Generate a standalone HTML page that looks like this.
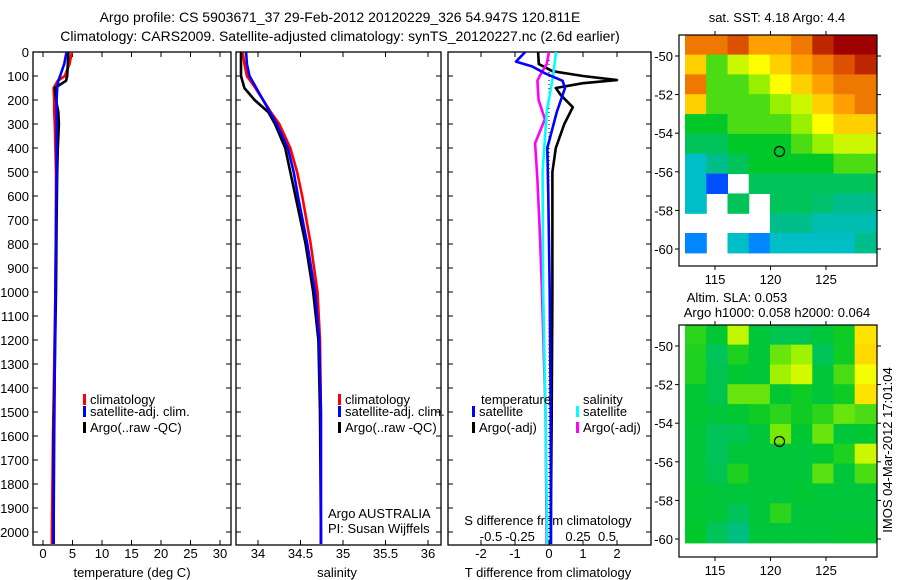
<!DOCTYPE html>
<html><head><meta charset="utf-8"><style>
html,body{margin:0;padding:0;background:#fff;}
svg{display:block;font-family:"Liberation Sans",sans-serif;}
text{font-size:13px;fill:#000;}
text.big{font-size:14px;}
</style></head><body>
<svg id="chart" width="900" height="580" viewBox="0 0 900 580">
<text class="big" x="340" y="22" text-anchor="middle">Argo profile: CS 5903671_37 29-Feb-2012 20120229_326 54.947S 120.811E</text>
<text class="big" x="340" y="41" text-anchor="middle">Climatology: CARS2009. Satellite-adjusted climatology: synTS_20120227.nc (2.6d earlier)</text>
<g id="g"></g>
</svg>
<script>
// ---- data ----
const depthT = [0,50,100,120,150,200,250,300,400,500,700,1000,1300,1600,2000,2050];
const argoT  = [4.3,4.2,4.1,3.9,2.0,2.2,2.6,2.7,2.5,2.4,2.3,2.2,2.0,1.8,1.8,1.8];
const climT  = [4.9,4.5,3.7,2.5,1.8,1.9,1.9,2.0,2.1,2.2,2.2,2.1,1.9,1.7,1.5,1.5];
const satT   = [4.0,3.6,2.9,2.6,2.4,2.3,2.3,2.3,2.3,2.3,2.2,2.1,2.0,1.9,1.8,1.8];
const depthS = [0,50,100,150,200,250,300,400,500,600,800,1000,1200,1500,2000,2050];
const argoS  = [33.80,33.80,33.80,33.84,33.96,34.12,34.20,34.32,34.38,34.44,34.56,34.65,34.71,34.73,34.74,34.74];
const climS  = [33.82,33.84,33.87,33.97,34.06,34.15,34.25,34.38,34.46,34.52,34.62,34.70,34.73,34.74,34.74,34.74];
const satS   = [33.86,33.87,33.90,33.98,34.06,34.14,34.22,34.35,34.42,34.47,34.58,34.67,34.72,34.74,34.74,34.74];
const depthDT1 = [0,50,80,100,117,130,150,180,230,300,400,500,700,1000,1500,2050];
const argoDT   = [-0.32,-0.3,0.1,1.0,2.0,1.0,0.2,0.35,0.7,0.45,0.2,0.1,0.1,0.1,0.08,0.05];
const depthDT2 = [0,40,60,90,120,150,250,400,600,1000,1500,2050];
const satDT    = [-0.7,-0.97,-0.5,-0.1,0.4,0.47,0.23,-0.05,-0.02,0.02,0.05,0.06];
const depthDS1 = [0,50,100,120,200,280,380,530,740,1000,1500,2050];
const argoDS   = [0.0,-0.02,-0.08,-0.1,-0.09,-0.035,-0.12,-0.10,-0.08,-0.06,-0.03,-0.02];
const depthDS2 = [0,100,250,500,1000,1500,2050];
const satDS    = [0.06,0.035,-0.02,-0.055,-0.05,-0.03,-0.015];
const depthTicks = [0,100,200,300,400,500,600,700,800,900,1000,1100,1200,1300,1400,1500,1600,1700,1800,1900,2000];
const tTicks = [0,5,10,15,20,25,30];
const sTicks = [34,34.5,35,35.5,36];
const sTickLabels = ["34","34.5","35","35.5","36"];
const dtTicks = [-2,-1,0,1,2];
const dsTicks = [-0.5,-0.25,0,0.25,0.5];
const dsTickLabels = ["-0.5","-0.25","0","0.25","0.5"];
const lonTicks = [115,120,125];
const latTicks = [-50,-52,-54,-56,-58,-60];
// SST grid (rows north->south, -48.9 to -60.2), colour index 0..10, null = no data
const sstGrid = [
 [8,8,8.5,7.5,7.5,8,9,9.5,9.5],
 [7,5,6,6.5,7,7.5,8,8.5,9],
 [8,5,5,5.5,6.5,7,7.5,8,8],
 [7,5,5,5,5.5,6,7,7.5,8],
 [4.5,4.5,5,5,5,5.5,6.5,7,7],
 [4,4,4.5,4.5,4.5,5,5.5,6,6],
 [3,3.5,4,4.5,4.5,4.5,4.5,5,5],
 [3,1.5,null,4,4,4,4,4,4],
 [3,null,4,null,4,4,3.8,3.5,3.5],
 [null,null,null,null,3.5,3.5,3.2,3.2,3.2],
 [2,null,3,2,3,3,3,3,3.5]
];
const slaGrid = [
 [4.8,4.4,5.9,4.3,4.1,4.1,4.3,4.6,6.8],
 [4.7,4.0,4.7,4.3,5.2,5.6,4.0,4.6,6.9],
 [4.7,4.1,4.4,4.3,5.6,6.1,4.3,5.0,6.4],
 [4.4,4.1,5.2,5.2,4.4,4.6,4.3,4.6,6.8],
 [4.4,4.3,4.4,4.6,4.8,4.6,4.8,5.2,5.0],
 [4.3,4.0,4.1,4.3,5.3,4.4,5.2,4.3,4.4],
 [4.3,4.0,4.3,4.3,4.3,4.3,4.4,4.7,6.0],
 [4.3,4.1,4.7,4.3,4.3,4.3,5.1,4.3,5.0],
 [4.4,4.3,4.3,4.3,4.3,4.4,4.3,4.3,4.3],
 [4.4,4.3,4.0,4.3,4.8,4.3,4.3,4.3,4.3],
 [4.5,4.0,3.6,4.3,4.3,4.3,4.3,4.4,4.4]
];
const floatLon = 120.81, floatLat = -54.947;

// ---- helpers ----
const NS="http://www.w3.org/2000/svg";
const G=document.getElementById('g');
function el(tag,attrs,parent){const e=document.createElementNS(NS,tag);for(const k in attrs)e.setAttribute(k,attrs[k]);(parent||G).appendChild(e);return e;}
const yD = d => 52 + d*0.24;
const P1={x0:33,x1:231}, P2={x0:236,x1:441}, P3={x0:448,x1:651};
const PT=52, PB=545;
const xT = t => 43 + t*5.9;
const xS = s => 258 + (s-34)*85;
const xDT = v => 549 + v*34;
const xDS = v => 549 + v*116;

function frame(p,name){
  const r=el('rect',{x:p.x0,y:PT,width:p.x1-p.x0,height:PB-PT,fill:'none',stroke:'#000','stroke-width':1.3});
  
  
  depthTicks.forEach(d=>{
    el('line',{x1:p.x0,x2:p.x0+5,y1:yD(d),y2:yD(d),stroke:'#000'});
    el('line',{x1:p.x1,x2:p.x1-5,y1:yD(d),y2:yD(d),stroke:'#000'});
  });
}
function xticks(vals,fx,labels,ly,name){
  vals.forEach((v,i)=>{
    const x=fx(v);
    el('line',{x1:x,x2:x,y1:PT,y2:PT+5,stroke:'#000'});
    el('line',{x1:x,x2:x,y1:PB,y2:PB-5,stroke:'#000'});
    if(ly){const t=el('text',{x:x,y:ly,'text-anchor':'middle'});t.textContent=labels?labels[i]:String(v);
    
    }
  });
}
function txt(x,y,s,name,anchor){const t=el('text',{x:x,y:y,'text-anchor':anchor||'start'});t.textContent=s;
  
  return t;}
function legend(x,y,color,label,name){
  el('rect',{x:x,y:y-10,width:3,height:11,fill:color});
  txt(x+7,y,label,name);
}
const defs=el('defs',{});
[[P1,'c1'],[P2,'c2'],[P3,'c3']].forEach(([p,id])=>{const c=el('clipPath',{id:id},defs);el('rect',{x:p.x0,y:PT,width:p.x1-p.x0,height:PB-PT},c);});
function lineIn(g,ds,vs,fx,color,name){const pts=ds.map((d,i)=>fx(vs[i]).toFixed(1)+','+yD(d).toFixed(1)).join(' ');
  const p=el('polyline',{points:pts,fill:'none',stroke:color,'stroke-width':2.6,'stroke-linejoin':'round'},g);
  
  }

// Panel 1
frame(P1,'temperature-panel');
depthTicks.forEach(d=>txt(29,yD(d)+5,String(d),'depth-tick-label','end'));
xticks(tTicks,xT,null,558,'temperature-tick-label');
txt(132,577,'temperature (deg C)','temperature-axis-title','middle');
let g1=el('g',{'clip-path':'url(#c1)'});
lineIn(g1,depthT,climT,xT,'#ff0000','climatology-temperature-line');
lineIn(g1,depthT,argoT,xT,'#000000','argo-temperature-line');
lineIn(g1,depthT,satT,xT,'#0000ff','satellite-temperature-line');
legend(83,404,'#ff0000','climatology','legend-climatology');
legend(83,416,'#0000ff','satellite-adj. clim.','legend-satellite');
legend(83,432,'#000000','Argo(..raw -QC)','legend-argo');

// Panel 2
frame(P2,'salinity-panel');
xticks(sTicks,xS,sTickLabels,558,'salinity-tick-label');
txt(337,577,'salinity','salinity-axis-title','middle');
let g2=el('g',{'clip-path':'url(#c2)'});
lineIn(g2,depthS,climS,xS,'#ff0000','climatology-salinity-line');
lineIn(g2,depthS,argoS,xS,'#000000','argo-salinity-line');
lineIn(g2,depthS,satS,xS,'#0000ff','satellite-salinity-line');
legend(338,404,'#ff0000','climatology','legend-climatology-2');
legend(338,416,'#0000ff','satellite-adj. clim.','legend-satellite-2');
legend(338,432,'#000000','Argo(..raw -QC)','legend-argo-2');
txt(328,518,'Argo AUSTRALIA','argo-australia-label');
txt(328,533,'PI: Susan Wijffels','pi-label');

// Panel 3
frame(P3,'difference-panel');
xticks(dtTicks,xDT,null,558,'t-diff-tick-label');
dsTicks.forEach((v,i)=>{txt(xDS(v),541,dsTickLabels[i],'s-diff-tick-label','middle');});
txt(548,577,'T difference from climatology','t-diff-axis-title','middle');
txt(548,525,'S difference from climatology','s-diff-axis-title','middle');
let g3=el('g',{'clip-path':'url(#c3)'});
el('line',{x1:xDT(0),x2:xDT(0),y1:PT,y2:PB,stroke:'#000','stroke-dasharray':'1 3','stroke-width':1},g3);
lineIn(g3,depthDT1,argoDT,xDT,'#000000','argo-t-diff-line');
lineIn(g3,depthDS1,argoDS,xDS,'#ff00ff','argo-s-diff-line');
lineIn(g3,depthDS2,satDS,xDS,'#00ffff','satellite-s-diff-line');
lineIn(g3,depthDT2,satDT,xDT,'#0000ff','satellite-t-diff-line');
txt(481,404,'temperature','legend-temperature-heading');
txt(583,404,'salinity','legend-salinity-heading');
legend(472,416,'#0000ff','satellite','legend-t-satellite');
legend(472,432,'#000000','Argo(-adj)','legend-t-argo');
legend(576,416,'#00ffff','satellite','legend-s-satellite');
legend(576,432,'#ff00ff','Argo(-adj)','legend-s-argo');

// Maps
const stops=[[0,[0,0,140]],[1.5,[0,80,255]],[2.5,[0,190,255]],[3.5,[0,190,140]],[4.5,[0,200,40]],[5.5,[150,240,0]],[6.5,[255,255,0]],[7.5,[255,160,0]],[8.5,[220,80,0]],[9.5,[160,0,0]],[10,[140,0,0]]];
function cmap(v){for(let i=1;i<stops.length;i++){if(v<=stops[i][0]){const a=stops[i-1],b=stops[i];const f=(v-a[0])/(b[0]-a[0]);const c=a[1].map((x,k)=>Math.round(x+(b[1][k]-x)*f));return 'rgb('+c.join(',')+')';}}return 'rgb(140,0,0)';}
function map(top,bottom,grid,name){
  const M={x0:679,x1:877,y0:top,y1:bottom};
  const lonx=lon=>715+(lon-115)*11.1;
  const laty=lat=>(top+21)+(-50-lat)*19.3;
  const g=el('g',{});
  
  
  const rows=grid.length, cols=grid[0].length;
  const lat0=-48.9, lat1=-60.2, lon0=112.3, lon1=129.5;
  grid.forEach((row,r)=>row.forEach((v,c)=>{
    if(v===null)return;
    const xa=lonx(lon0+(lon1-lon0)*c/cols), xb=lonx(lon0+(lon1-lon0)*(c+1)/cols);
    const ya=laty(lat0+(lat1-lat0)*r/rows), yb=laty(lat0+(lat1-lat0)*(r+1)/rows);
    const cell=el('rect',{x:xa.toFixed(1),y:ya.toFixed(1),width:(xb-xa+0.6).toFixed(1),height:(yb-ya+0.6).toFixed(1),fill:cmap(v)},g);
    
    
  }));
  el('rect',{x:M.x0,y:M.y0,width:M.x1-M.x0,height:M.y1-M.y0,fill:'none',stroke:'#000','stroke-width':1.2},g);
  lonTicks.forEach(l=>{const x=lonx(l);el('line',{x1:x,x2:x,y1:M.y0,y2:M.y0-4,stroke:'#000'},g);el('line',{x1:x,x2:x,y1:M.y1,y2:M.y1+4,stroke:'#000'},g);
    txt(x,M.y1+18,String(l),'longitude-tick-label','middle');});
  latTicks.forEach(l=>{const y=laty(l);el('line',{x1:M.x0,x2:M.x0-4,y1:y,y2:y,stroke:'#000'},g);el('line',{x1:M.x1,x2:M.x1+4,y1:y,y2:y,stroke:'#000'},g);
    txt(673,y+5,String(l),'latitude-tick-label','end');});
  const c=el('circle',{cx:lonx(floatLon),cy:laty(floatLat),r:5,fill:'none',stroke:'#000','stroke-width':1.2},g);
  
  
}
map(35,266,sstGrid,'sst-map');
map(325,557,slaGrid,'sla-map');
txt(777,22,'sat. SST: 4.18 Argo: 4.4','sst-map-title','middle');
txt(737,302,'Altim. SLA: 0.053','sla-map-title','middle');
txt(777,317,'Argo h1000: 0.058 h2000: 0.064','argo-height-label','middle');
const im=txt(0,0,'IMOS 04-Mar-2012 17:01:04','timestamp-label','middle');
im.setAttribute('transform','translate(892,450) rotate(-90)');
</script>
</body></html>
